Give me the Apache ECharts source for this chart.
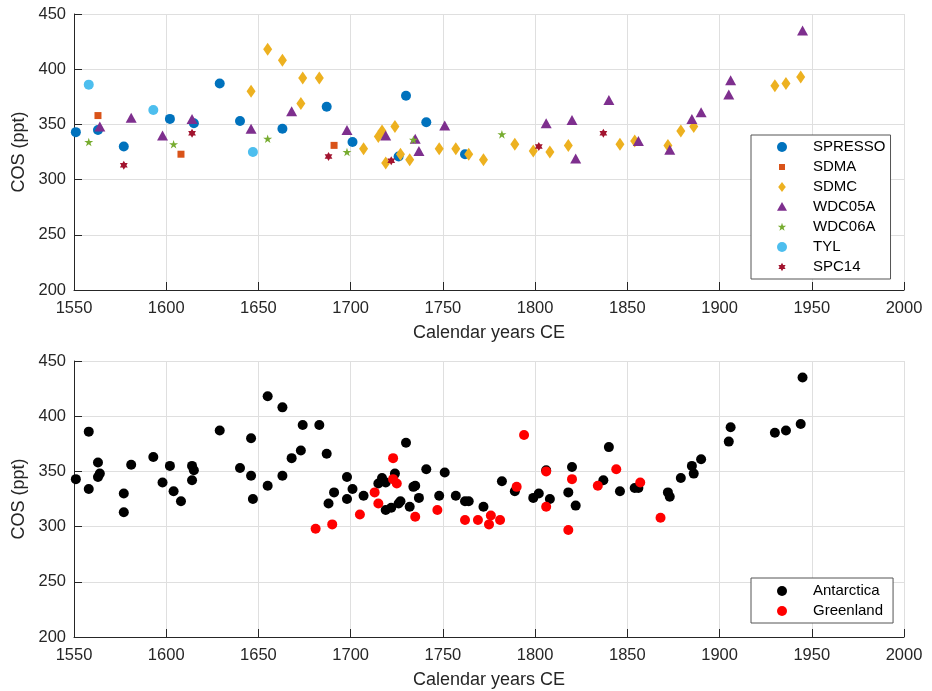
<!DOCTYPE html>
<html>
<head>
<meta charset="utf-8">
<script src="https://cdn.jsdelivr.net/npm/echarts@6/dist/echarts.min.js"></script>
<style>
  html, body { margin: 0; padding: 0; background: #fff; }
  #main { width: 932px; height: 691px; }
</style>
</head>
<body>
<div id="main"></div>
<script>
// [year, COS ppt]
var spresso = [[1551, 343], [1563, 345], [1577, 330], [1602, 355], [1615, 351], [1629, 387],
    [1640, 353], [1663, 346], [1687, 366], [1701, 334], [1726, 321], [1730, 376], [1741, 352], [1762, 323]];
var sdma = [[1563, 358], [1608, 323], [1691, 331]];
var sdmc = [[1646, 380], [1655, 418], [1663, 408], [1673, 369], [1674, 392], [1683, 392],
    [1707, 328], [1715, 339], [1717, 344], [1719, 315], [1724, 348], [1727, 323], [1732, 318],
    [1748, 328], [1757, 328], [1764, 323], [1772, 318], [1789, 332], [1799, 326], [1808, 325],
    [1818, 331], [1846, 332], [1854, 335], [1872, 331], [1879, 344], [1886, 348],
    [1930, 385], [1936, 387], [1944, 393]];
var wdc05a = [[1564, 348], [1581, 356], [1598, 340], [1614, 355], [1646, 346], [1668, 362],
    [1698, 345], [1719, 340], [1735, 337], [1737, 326], [1751, 349], [1806, 351], [1820, 354],
    [1822, 319], [1840, 372], [1856, 335], [1873, 327], [1885, 355], [1890, 361],
    [1905, 377], [1906, 390], [1945, 435]];
var wdc06a = [[1558, 334], [1604, 332], [1655, 337], [1698, 325], [1734, 336], [1782, 341]];
var tyl = [[1558, 386], [1593, 363], [1647, 325]];
var spc14 = [[1577, 313], [1614, 342], [1688, 321], [1722, 317], [1802, 330], [1837, 342]];

var greenland = [[1681, 298], [1690, 302], [1705, 311], [1713, 331], [1715, 321], [1723, 362],
    [1723, 343], [1725, 339], [1735, 309], [1747, 315], [1762, 306], [1769, 306], [1775, 302],
    [1776, 310], [1781, 306], [1790, 336], [1794, 383], [1806, 350], [1806, 318], [1818, 297],
    [1820, 343], [1834, 337], [1844, 352], [1857, 340], [1868, 308]];

var antarctica = [].concat(spresso, sdma, sdmc, wdc05a, wdc06a, tyl, spc14);

var yearTicks = { min: 1550, max: 2000, interval: 50 };
var cosTicks = { min: 200, max: 450, interval: 50 };

var starPath = 'path://M50,2L61,36L97,36L68,57L79,92L50,70L21,92L32,57L3,36L39,36Z';
var hexPath = 'path://M50,0L64.43,25L93.3,25L78.87,50L93.3,75L64.43,75L50,100L35.57,75L6.7,75L21.13,50L6.7,25L35.57,25Z';
var fontFam = '"Liberation Sans", Arial, Helvetica, sans-serif';
var ink = '#262626';

function xAxisCfg(idx) {
    return {
        type: 'value', gridIndex: idx,
        min: yearTicks.min, max: yearTicks.max, interval: yearTicks.interval,
        name: 'Calendar years CE', nameLocation: 'middle', nameGap: 34,
        nameTextStyle: { fontSize: 18, color: ink, fontFamily: fontFam },
        axisLine: { onZero: false, lineStyle: { color: ink, width: 1 } },
        axisTick: { inside: true, length: 8, lineStyle: { color: ink } },
        axisLabel: { fontSize: 16.5, color: ink, margin: 10, fontFamily: fontFam,
            formatter: function (v) { return String(v); } },
        splitLine: { show: true, lineStyle: { color: '#dfdfdf', width: 1 } }
    };
}
function yAxisCfg(idx) {
    return {
        type: 'value', gridIndex: idx,
        min: cosTicks.min, max: cosTicks.max, interval: cosTicks.interval,
        name: 'COS (ppt)', nameLocation: 'middle', nameGap: 42, nameRotate: 90,
        nameTextStyle: { fontSize: 18, color: ink, fontFamily: fontFam },
        axisLine: { show: true, onZero: false, lineStyle: { color: ink, width: 1 } },
        axisTick: { show: true, inside: true, length: 8, lineStyle: { color: ink } },
        axisLabel: { fontSize: 16.5, color: ink, margin: 8, fontFamily: fontFam },
        splitLine: { show: true, lineStyle: { color: '#dfdfdf', width: 1 } }
    };
}
function scatter(name, data, idx, symbol, size, color) {
    return {
        name: name, type: 'scatter', xAxisIndex: idx, yAxisIndex: idx,
        data: data, symbol: symbol, symbolSize: size, symbolKeepAspect: true,
        itemStyle: { color: color, opacity: 1 }
    };
}

var legendText = { fontSize: 15, color: '#000', fontFamily: fontFam, padding: [0, 0, 0, 21], lineHeight: 16 };

var myChart = echarts.init(document.getElementById('main'));
option = {
    animation: false,
    backgroundColor: '#fff',
    grid: [
        { left: 74, right: 28, top: 14, height: 276 },
        { left: 74, right: 28, top: 361, height: 276 }
    ],
    xAxis: [xAxisCfg(0), xAxisCfg(1)],
    yAxis: [yAxisCfg(0), yAxisCfg(1)],
    legend: [
        {
            orient: 'vertical', left: 751, top: 135,
            padding: [4, 5, 4, 26], itemGap: 4, itemWidth: 10, itemHeight: 10,
            borderColor: '#555', borderWidth: 1, backgroundColor: '#fff',
            textStyle: legendText,
            data: [
                { name: 'SPRESSO', icon: 'circle' },
                { name: 'SDMA', icon: 'path://M0,0M100,100M20,20L80,20L80,80L20,80Z' },
                { name: 'SDMC', icon: 'path://M0,0M100,100M12,50L50,0L88,50L50,100Z' },
                { name: 'WDC05A', icon: 'path://M0,0M100,100M0,88L50,0L100,88Z' },
                { name: 'WDC06A', icon: 'path://M0,0M100,100M50,8L60,38L92,38L66,57L76,88L50,69L24,88L34,57L8,38L40,38Z' },
                { name: 'TYL', icon: 'circle' },
                { name: 'SPC14', icon: 'path://M0,0M100,100M50,8L62,29L86,29L74,50L86,71L62,71L50,92L38,71L14,71L26,50L14,29L38,29Z' }
            ]
        },
        {
            orient: 'vertical', left: 751, top: 578,
            padding: [5, 10, 4, 26], itemGap: 4, itemWidth: 10, itemHeight: 10,
            borderColor: '#555', borderWidth: 1, backgroundColor: '#fff',
            textStyle: legendText,
            data: [
                { name: 'Antarctica', icon: 'circle' },
                { name: 'Greenland', icon: 'circle' }
            ]
        }
    ],
    series: [
        scatter('SPRESSO', spresso, 0, 'circle', 10, '#0072BD'),
        scatter('SDMA', sdma, 0, 'rect', 7, '#D95319'),
        scatter('SDMC', sdmc, 0, 'diamond', [9, 13], '#EDB120'),
        scatter('WDC05A', wdc05a, 0, 'triangle', [11, 10], '#7E2F8E'),
        scatter('WDC06A', wdc06a, 0, starPath, 9, '#77AC30'),
        scatter('TYL', tyl, 0, 'circle', 10, '#4DBEEE'),
        scatter('SPC14', spc14, 0, hexPath, 9, '#A2142F'),
        scatter('Antarctica', antarctica, 1, 'circle', 10, '#000000'),
        scatter('Greenland', greenland, 1, 'circle', 10, '#FF0000')
    ]
};
myChart.setOption(option);
</script>
</body>
</html>
